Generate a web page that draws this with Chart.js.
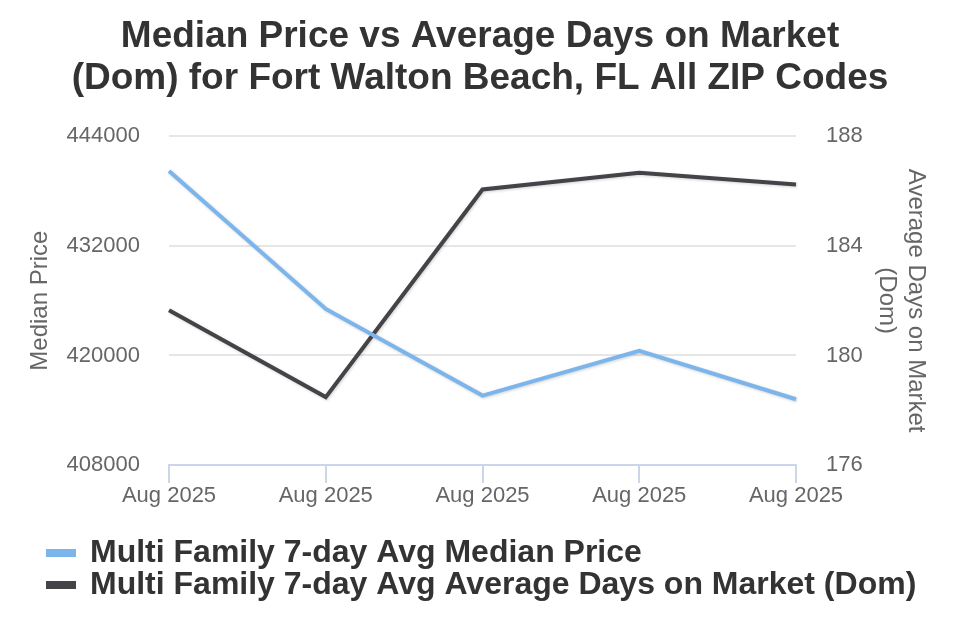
<!DOCTYPE html>
<html>
<head>
<meta charset="utf-8">
<script src="https://cdn.jsdelivr.net/npm/chart.js@4.4.1/dist/chart.umd.min.js"></script>
<style>
  html, body { margin:0; padding:0; background:#fff; }
  #wrap { width:960px; height:640px; }
</style>
</head>
<body>
<div id="wrap"><canvas id="chartDom" width="960" height="640"></canvas></div>
<script>
const labels = ['Aug 2025', 'Aug 2025', 'Aug 2025', 'Aug 2025', 'Aug 2025'];
const medianPrice = [440200, 425100, 415600, 420500, 415200];
const avgDom = [181.65, 178.48, 186.06, 186.67, 186.24];
const priceTicks = [408000, 420000, 432000, 444000];
const domTicks = [176, 180, 184, 188];

const FONT = '"Liberation Sans", Arial, sans-serif';

// soft drop shadow under the lines
const lineShadow = {
  id: 'lineShadow',
  beforeDatasetsDraw(chart) {
    const c = chart.ctx;
    c.save();
    c.shadowColor = 'rgba(0,0,0,0.18)';
    c.shadowBlur = 3;
    c.shadowOffsetX = 1;
    c.shadowOffsetY = 1;
  },
  afterDatasetsDraw(chart) { chart.ctx.restore(); }
};

// push the legend rows in from the left edge
const legendShift = {
  id: 'legendShift',
  afterLayout(chart) {
    if (chart.legend) chart.legend.left += 36;
  }
};

new Chart(document.getElementById('chartDom'), {
  type: 'line',
  data: {
    labels,
    datasets: [
      { label:'Multi Family 7-day Avg Median Price', data:medianPrice, yAxisID:'yPrice',
        borderColor:'#7cb5ec', backgroundColor:'#7cb5ec', borderWidth:4, pointRadius:0, tension:0 },
      { label:'Multi Family 7-day Avg Average Days on Market (Dom)', data:avgDom, yAxisID:'yDom',
        borderColor:'#434348', backgroundColor:'#434348', borderWidth:4, pointRadius:0, tension:0 }
    ]
  },
  plugins: [lineShadow, legendShift],
  options: {
    responsive:false, animation:false,
    layout:{ padding:{ left:10, right:10, top:10, bottom:29 } },
    plugins:{
      title:{ display:true, text:['Median Price vs Average Days on Market', '(Dom) for Fort Walton Beach, FL All ZIP Codes'],
        color:'#333333', font:{ family:FONT, size:37, weight:'bold', lineHeight:1.14 },
        padding:{ top:6, bottom:36 } },
      legend:{ position:'bottom', align:'start',
        labels:{ boxWidth:28, boxHeight:4, padding:0, color:'#333333',
          font:{ family:FONT, size:32, weight:'bold' } } },
      tooltip:{ enabled:false }
    },
    scales:{
      x:{
        offset:false,
        grid:{ drawOnChartArea:false, color:'#ccd6eb', tickLength:18, lineWidth:2 },
        border:{ color:'#ccd6eb', width:2 },
        ticks:{ color:'#666666', padding:0, maxRotation:0, autoSkip:false, font:{ family:FONT, size:22 } },
        afterFit(scale) { scale.height = 72; }
      },
      yPrice:{
        position:'left', min:408000, max:444000,
        afterBuildTicks(scale) { scale.ticks = priceTicks.map(v => ({ value:v })); },
        afterFit(scale) { scale.width = 159; },
        grid:{ color:'#e6e6e6', lineWidth:2, drawTicks:false },
        border:{ display:false },
        ticks:{ color:'#666666', padding:29, font:{ family:FONT, size:22 }, callback:v => String(v) },
        title:{ display:true, text:'Median Price', color:'#666666', padding:{ top:16, bottom:0 },
          font:{ family:FONT, size:24 } }
      },
      yDom:{
        position:'right', min:176, max:188,
        afterBuildTicks(scale) { scale.ticks = domTicks.map(v => ({ value:v })); },
        afterFit(scale) { scale.width = 154; },
        grid:{ drawOnChartArea:false, drawTicks:false },
        border:{ display:false },
        ticks:{ color:'#666666', padding:30, font:{ family:FONT, size:22 }, callback:v => String(v) },
        title:{ display:true, text:['Average Days on Market', '(Dom)'], color:'#666666', padding:{ top:20, bottom:0 },
          font:{ family:FONT, size:24 } }
      }
    }
  }
});
</script>
</body>
</html>
